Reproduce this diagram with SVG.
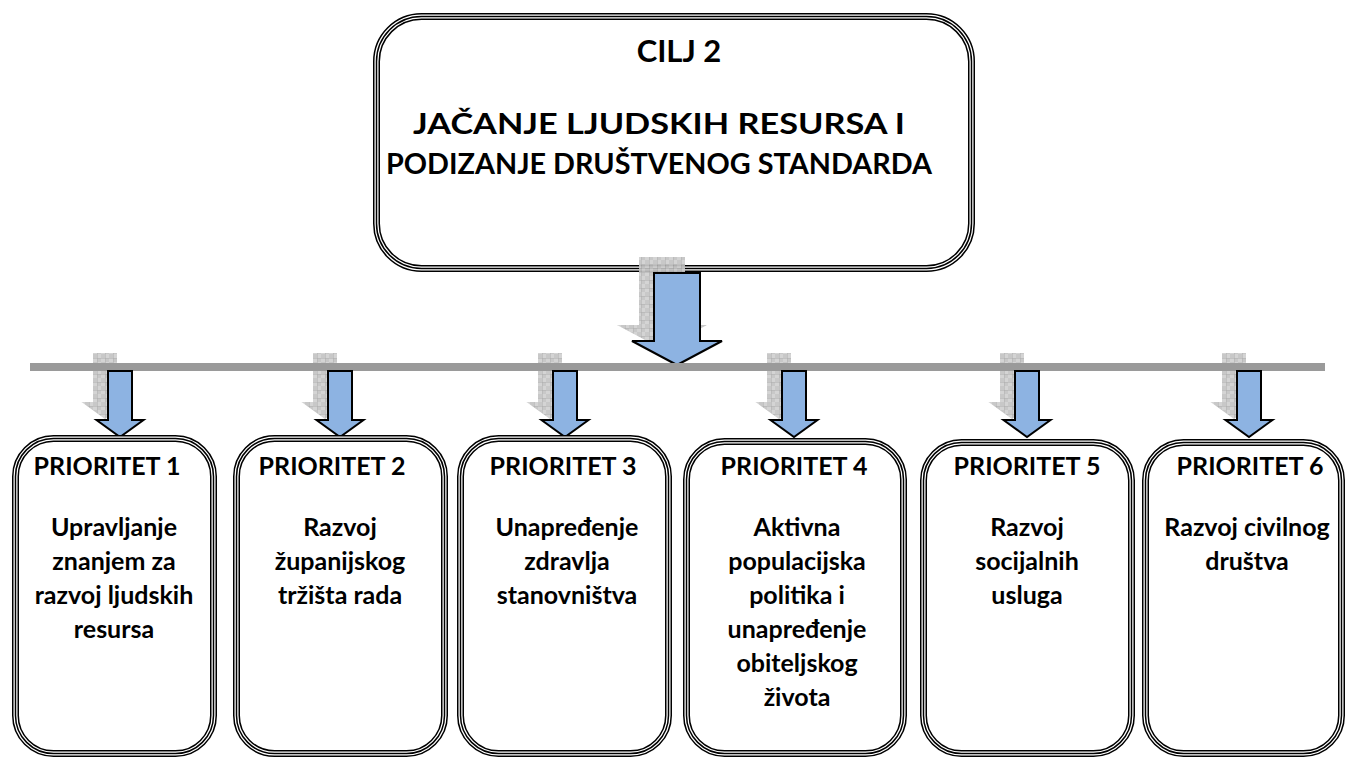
<svg xmlns="http://www.w3.org/2000/svg" xmlns:xlink="http://www.w3.org/1999/xlink" width="1348" height="758" viewBox="0 0 1348 758">
<style>
.o{fill:#fff;stroke:#000;stroke-width:7}
.m{fill:none;stroke:#fff;stroke-width:4}
.i{fill:none;stroke:#000;stroke-width:1.5}
.t{font-family:Lato,"Liberation Sans",sans-serif;font-weight:bold;fill:#000;text-anchor:middle}
.s{font-size:25px}
.arrow{fill:#8DB3E2;stroke:#000;stroke-width:2;stroke-linejoin:miter}
.shadow{fill:url(#chk);opacity:0.9}
</style>
<defs>
<pattern id="chk" width="8" height="8" patternUnits="userSpaceOnUse">
<rect width="8" height="8" fill="#cfcfcf"/>
<rect width="4" height="4" fill="#c2c2c2"/>
<rect x="4" y="4" width="4" height="4" fill="#c2c2c2"/>
<path d="M0 0.25H8M0.25 0V8" stroke="#a0a0a0" stroke-width="0.6"/>
</pattern>
<rect id="b0" x="376.5" y="16.5" width="595" height="252" rx="45"/>
<rect id="b1" x="15.5" y="438.5" width="198" height="315" rx="38"/>
<rect id="b2" x="236.5" y="438.5" width="208" height="315" rx="38"/>
<rect id="b3" x="460.5" y="438.5" width="208" height="315" rx="38"/>
<rect id="b4" x="686.5" y="441.5" width="217" height="312" rx="38"/>
<rect id="b5" x="923.5" y="442.5" width="208" height="311" rx="38"/>
<rect id="b6" x="1145.5" y="442.5" width="196" height="311" rx="38"/>
<path id="sa" d="M-12 371H12V420H23.5L0 437L-23.5 420H-12Z"/>
</defs>

<g id="goal">
<use xlink:href="#b0" class="o"/><use xlink:href="#b0" class="m"/><use xlink:href="#b0" class="i"/>
<text class="t" x="679" y="62" font-size="31">CILJ 2</text>
<text class="t" x="659" y="134" font-size="28" textLength="492" lengthAdjust="spacingAndGlyphs">JAČANJE LJUDSKIH RESURSA I</text>
<text class="t" x="659" y="174" font-size="28" textLength="546" lengthAdjust="spacingAndGlyphs">PODIZANJE DRUŠTVENOG STANDARDA</text>
</g>

<g id="connectors">
<path class="shadow" transform="translate(-15,-16)" d="M654 273H700V341H722L677 365L632 341H654Z"/>
<rect x="30" y="363" width="1295" height="8" fill="#9a9a9a"/>
<path class="arrow" d="M654 273H700V341H722L677 365L632 341H654Z"/>
<use xlink:href="#sa" class="shadow" transform="translate(105,-18)"/>
<use xlink:href="#sa" class="shadow" transform="translate(325,-18)"/>
<use xlink:href="#sa" class="shadow" transform="translate(550,-18)"/>
<use xlink:href="#sa" class="shadow" transform="translate(779,-18)"/>
<use xlink:href="#sa" class="shadow" transform="translate(1012,-18)"/>
<use xlink:href="#sa" class="shadow" transform="translate(1234,-18)"/>
<rect x="30" y="363" width="1295" height="8" fill="#9a9a9a"/>
<use xlink:href="#sa" class="arrow" transform="translate(120,0)"/>
<use xlink:href="#sa" class="arrow" transform="translate(340,0)"/>
<use xlink:href="#sa" class="arrow" transform="translate(565,0)"/>
<use xlink:href="#sa" class="arrow" transform="translate(794,0)"/>
<use xlink:href="#sa" class="arrow" transform="translate(1027,0)"/>
<use xlink:href="#sa" class="arrow" transform="translate(1249,0)"/>
</g>

<g id="p1">
<use xlink:href="#b1" class="o"/><use xlink:href="#b1" class="m"/><use xlink:href="#b1" class="i"/>
<text class="t s" x="107" y="475">PRIORITET 1</text>
<text class="t s" x="114" y="536">Upravljanje</text>
<text class="t s" x="114" y="570">znanjem za</text>
<text class="t s" x="114" y="604">razvoj  ljudskih</text>
<text class="t s" x="114" y="638">resursa</text>
</g>

<g id="p2">
<use xlink:href="#b2" class="o"/><use xlink:href="#b2" class="m"/><use xlink:href="#b2" class="i"/>
<text class="t s" x="332" y="475">PRIORITET 2</text>
<text class="t s" x="340" y="536">Razvoj</text>
<text class="t s" x="340" y="570">županijskog</text>
<text class="t s" x="340" y="604">tržišta rada</text>
</g>

<g id="p3">
<use xlink:href="#b3" class="o"/><use xlink:href="#b3" class="m"/><use xlink:href="#b3" class="i"/>
<text class="t s" x="563" y="475">PRIORITET 3</text>
<text class="t s" x="567" y="536">Unapređenje</text>
<text class="t s" x="567" y="570">zdravlja</text>
<text class="t s" x="567" y="604">stanovništva</text>
</g>

<g id="p4">
<use xlink:href="#b4" class="o"/><use xlink:href="#b4" class="m"/><use xlink:href="#b4" class="i"/>
<text class="t s" x="794" y="475">PRIORITET 4</text>
<text class="t s" x="797" y="536">Aktivna</text>
<text class="t s" x="797" y="570">populacijska</text>
<text class="t s" x="797" y="604">politika i</text>
<text class="t s" x="797" y="638">unapređenje</text>
<text class="t s" x="797" y="672">obiteljskog</text>
<text class="t s" x="797" y="706">života</text>
</g>

<g id="p5">
<use xlink:href="#b5" class="o"/><use xlink:href="#b5" class="m"/><use xlink:href="#b5" class="i"/>
<text class="t s" x="1027" y="475">PRIORITET 5</text>
<text class="t s" x="1027" y="536">Razvoj</text>
<text class="t s" x="1027" y="570">socijalnih</text>
<text class="t s" x="1027" y="604">usluga</text>
</g>

<g id="p6">
<use xlink:href="#b6" class="o"/><use xlink:href="#b6" class="m"/><use xlink:href="#b6" class="i"/>
<text class="t s" x="1250" y="475">PRIORITET 6</text>
<text class="t s" x="1247" y="536">Razvoj civilnog</text>
<text class="t s" x="1247" y="570">društva</text>
</g>
</svg>
